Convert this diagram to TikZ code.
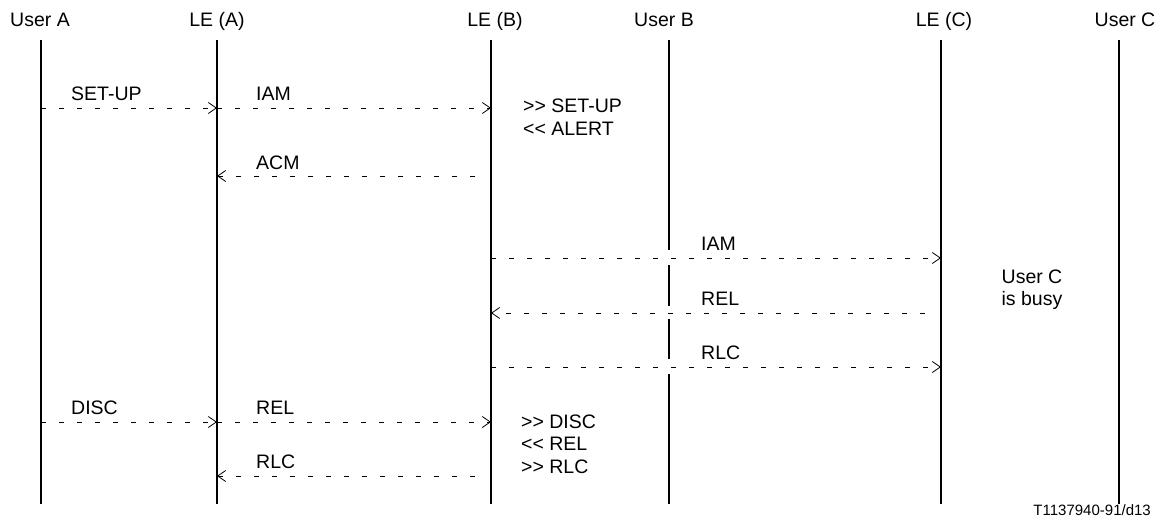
\documentclass[tikz,border=0pt]{standalone}
\usepackage{fontspec}
\setmainfont{Liberation Sans}
\usetikzlibrary{arrows.meta}
\tikzset{
  lifeline/.style={line width=1.8pt},
  msg/.style={line width=0.7pt, dash pattern=on 5pt off 13pt,
    -{Straight Barb[length=8pt,width=11pt,line width=0.8pt]}},
  hdr/.style={anchor=base, inner sep=0pt, font=\fontsize{19.5}{22}\selectfont},
  lbl/.style={anchor=base west, inner sep=0pt, font=\fontsize{19.5}{22}\selectfont},
  note/.style={anchor=base west, inner sep=0pt, align=left, font=\fontsize{19.5}{22.5}\selectfont},
}
\newcommand{\gtgt}{>\kern0pt>}
\newcommand{\ltlt}{<\kern0pt<}
\begin{document}
\begin{tikzpicture}[x=1pt,y=-1pt]
\useasboundingbox (0,0) rectangle (1159,530);
% headers
\node[hdr] (hA)  at (40,27)   {User A};
\node[hdr] (hLA) at (217,27)  {LE (A)};
\node[hdr] (hLB) at (495,27)  {LE (B)};
\node[hdr] (hB)  at (664,27)  {User B};
\node[hdr] (hLC) at (944,27)  {LE (C)};
\node[hdr] (hC)  at (1125,27) {User C};
% lifelines
\coordinate (A0) at (41,40);   \coordinate (A1) at (41,504);
\coordinate (LA0) at (217,40); \coordinate (LA1) at (217,504);
\coordinate (LB0) at (491,40); \coordinate (LB1) at (491,504);
\coordinate (LC0) at (941,40); \coordinate (LC1) at (941,504);
\coordinate (C0) at (1119,40); \coordinate (C1) at (1119,504);
\draw[lifeline] (A0) -- (A1);
\draw[lifeline] (LA0) -- (LA1);
\draw[lifeline] (LB0) -- (LB1);
\draw[lifeline] (LC0) -- (LC1);
\draw[lifeline] (C0) -- (C1);
% User B line, interrupted where messages cross
\coordinate (B0) at (669,40);  \coordinate (B1) at (669,250);
\coordinate (B2) at (669,265); \coordinate (B3) at (669,306);
\coordinate (B4) at (669,319); \coordinate (B5) at (669,359);
\coordinate (B6) at (669,374); \coordinate (B7) at (669,504);
\draw[lifeline] (B0) -- (B1) (B2) -- (B3) (B4) -- (B5) (B6) -- (B7);
% message end points
\coordinate (m1s) at (41,108);  \coordinate (m1e) at (217,108);
\coordinate (m2s) at (217,108); \coordinate (m2e) at (491,108);
\coordinate (m3s) at (475,176); \coordinate (m3e) at (217,176);
\coordinate (m4s) at (491,258); \coordinate (m4e) at (941,258);
\coordinate (m5s) at (925,313); \coordinate (m5e) at (491,313);
\coordinate (m6s) at (491,367); \coordinate (m6e) at (941,367);
\coordinate (m7s) at (41,422);  \coordinate (m7e) at (217,422);
\coordinate (m8s) at (217,422); \coordinate (m8e) at (491,422);
\coordinate (m9s) at (475,476); \coordinate (m9e) at (217,476);
\draw[msg] (m1s) -- (m1e);
\draw[msg] (m2s) -- (m2e);
\draw[msg] (m3s) -- (m3e);
\draw[msg] (m4s) -- (m4e);
\draw[msg] (m5s) -- (m5e);
\draw[msg] (m6s) -- (m6e);
\draw[msg] (m7s) -- (m7e);
\draw[msg] (m8s) -- (m8e);
\draw[msg] (m9s) -- (m9e);
% labels
\node[lbl] (l1) at (71,100)  {SET-UP};
\node[lbl] (l2) at (256,100) {IAM};
\node[lbl] (l3) at (256,169) {ACM};
\node[lbl] (l4) at (701,250) {IAM};
\node[lbl] (l5) at (701,305) {REL};
\node[lbl] (l6) at (701,359) {RLC};
\node[lbl] (l7) at (71,414)  {DISC};
\node[lbl] (l8) at (256,414) {REL};
\node[lbl] (l9) at (256,468) {RLC};
% notes (base anchor = baseline of last line)
\node[note] (n1) at (523,135) {\gtgt{} SET-UP\\\ltlt{} ALERT};
\node[note] (n2) at (521,473) {\gtgt{} DISC\\\ltlt{} REL\\\gtgt{} RLC};
\node[anchor=base, inner sep=0pt, align=center, font=\fontsize{19.5}{22}\selectfont] (busy) at (1032,305) {User C\\is busy};
\node[anchor=base east, inner sep=0pt, font=\fontsize{15}{17}\selectfont] (ref) at (1151,515) {T1137940-91/d13};
\end{tikzpicture}
\end{document}
